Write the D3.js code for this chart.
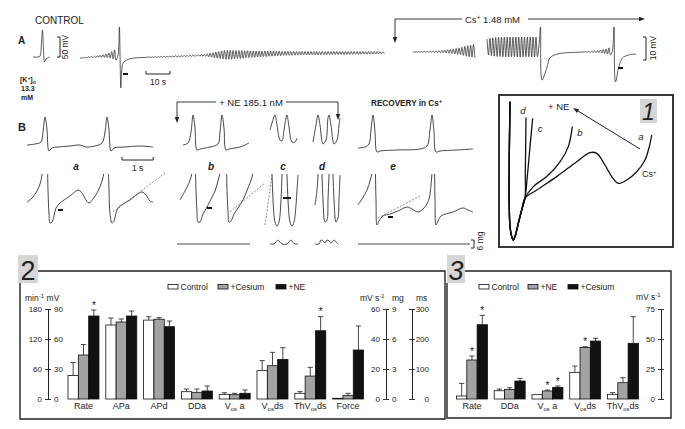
<!DOCTYPE html>
<html>
<head>
<meta charset="utf-8">
<style>
  body { margin: 0; background: #fff; }
  svg { display: block; font-family: "Liberation Sans", Arial, sans-serif; }
  .trace { fill: none; stroke: #333; stroke-width: 0.9; }
  .atrace { fill: none; stroke: #333; stroke-width: 0.8; }
  .p1 { fill: none; stroke: #111; stroke-width: 1.3; }
  .dash { fill: none; stroke: #555; stroke-width: 0.7; stroke-dasharray: 2,1.5; }
  .mark { stroke: #111; stroke-width: 2; }
  .bar-line { stroke: #333; stroke-width: 0.9; fill: none; }
  .frame { fill: none; stroke: #222; stroke-width: 1.4; }
  .tick text { fill: #222; }
  .tick line, .domain { stroke: #222; stroke-width: 0.9; }
</style>
<title>Cs+ and NE on pacemaker activity</title>
</head>
<body>
<script src="https://cdn.jsdelivr.net/npm/d3@7"></script>
<script>
// ---------------- data: bar panels ----------------
const cats2 = ["Rate", "APa", "APd", "DDa", "Vos a", "Vos ds", "ThVos ds", "Force"];
const units2 = ["min", "mV", "ms", "mV", "mVs", "mVs", "mVs", "mg"];
const series2 = ["Control", "+Cesium", "+NE"];
const ctrl2 = [47, 74, 263, 7.3, 3.1, 18.9, 3.8, 0.07];
const ctrl2Err = [26, 7, 11, 2.7, 1.1, 6.7, 1.1, 0];
const cs2 = [88, 77, 266, 6.7, 2.9, 22.2, 15.3, 0.37];
const cs2Err = [21, 3, 5, 3.3, 0.9, 8.9, 5.8, 0.2];
const ne2 = [166, 83, 241, 8, 3.8, 26.4, 45.5, 4.9];
const ne2Err = [12, 5, 19, 5, 2.2, 7.8, 9.4, 2.4];
const stars2 = [["Rate", "+NE"], ["ThVos ds", "+NE"]];
const ticksMin = [0, 60, 120, 180];
const ticksMV = [0, 30, 60, 90];
const ticksMVs = [0, 20, 40, 60];
const ticksMg = [0, 3, 6, 9];
const ticksMs = [0, 100, 200, 300];

const cats3 = ["Rate", "DDa", "Vos a", "Vos ds", "ThVos ds"];
const series3 = ["Control", "+NE", "+Cesium"];
const ctrl3 = [2.5, 6.9, 3.6, 22.2, 3.9];
const ctrl3Err = [10.5, 1.4, 0, 5.3, 1.4];
const ne3 = [32.5, 8, 6.7, 43, 13.6];
const ne3Err = [3.3, 1.4, 0.8, 0.6, 4.2];
const cs3 = [61.9, 15, 9.7, 48.3, 46.4];
const cs3Err = [7.8, 2.2, 1.1, 2.3, 22.2];
const stars3 = [["Rate", "+NE"], ["Rate", "+Cesium"], ["Vos a", "+NE"], ["Vos a", "+Cesium"], ["Vos ds", "+NE"]];
const ticks3 = [0, 25, 50, 75];

// ---------------- data: traces ----------------
// control spike, [ms, mV]
const ctlSpike = [[0,-60],[50,-60],[70,-57.5],[85,-22.5],[95,7.5],[105,-42.5],[115,-72.5],[130,-65],[170,-60]];
// panel A, time in s, voltage in mV ; oscillations given as peak-to-peak per cycle
const aOsc1 = { t0: 0, dt: 1.2, b0: 0, b1: 1.3, amps: [0.2,0.2,0.3,0.4,0.45,0.55,0.7,0.9,1.1,1.5,2.2,3.2,4.5] };
const aSpike = [[15.9,1.5],[16.4,13.5],[17.0,-13],[17.4,-5.2],[18.0,-2.2],[19.4,-0.9],[22,-0.1],[27.8,0.3]];
const aOsc2 = { t0: 29, dt: 1.2, b0: 0.3, b1: 1.1, amps: [0.2,0.25,0.3,0.3,0.35,0.35,0.4,0.4,0.4,0.45,0.45,0.45,0.5,0.5,0.5,0.5,0.55,0.6] };
const aOsc3 = { t0: 50.6, dt: 1.2, b0: 1.1, b1: 2.0, amps: [0.7,0.9,1.3,1.7,2.2,2.6,3,3.5,3.9,3.9,3.9,3.7,3.5,3.5,3.3,3,3,2.8,2.8,2.6,2.6,2.4,2.4,2.2,2.2,2.2,2,2] };
const aOsc4 = { t0: 84.2, dt: 1.2, b0: 2.0, b1: 2.3, amps: [1.7,1.7,1.7,1.65,1.65,1.55,1.55,1.5,1.5,1.5,1.5,1.45,1.45,1.4,1.4,1.35,1.35,1.3,1.3,1.3,1.3,1.25,1.25,1.2,1.2,1.2,1.2,1.2,1.2,1.15,1.15,1.1,1.1,1.0,1.0,0.9] };
const csOsc1 = { t0: 138.75, dt: 1.2, b0: 2.6, b1: 3.0, amps: [0.2,0.2,0.3,0.35,0.45,0.45,0.5,0.65,0.8,0.9,1.1,1.3,1.5,1.75,2.2,2.6,3,3.5,4.3,4.8,5.2,5.7] };
const csOsc2 = { t0: 169.6, dt: 1.2, b0: 4.8, b1: 4.8, amps: [7,7.5,8,8.3,8.3,8.5,8.5,8.7,8.5,8.5,8.7,8.7,8.5,8.5,8.5,8.7,8.7,8.5] };
const csSpike1 = [[191.3,6],[191.9,13.5],[192.5,-9.6],[194.6,-3.9],[195.8,0],[198.75,1.7],[209.6,2.6]];
const csOsc3 = { t0: 210.8, dt: 1.2, b0: 2.6, b1: 2.9, amps: [0.2,0.35,0.45,0.65,0.9,1.3,1.75,2.2,3] };
const csSpike2 = [[221.8,3],[222.5,13.5],[223.1,-10.4],[224.6,-3.5],[226,0],[228.5,1.3],[231.7,1.7]];

// panel B, [ms, mV] ; force [ms, mg]
const aTop = [[0,-60],[256,-57],[448,-51],[512,-21],[576,24],[640,-15],[704,-78],[800,-69],[992,-66],[1376,-63],[1696,-60],[1888,-66],[2176,-63],[2400,-54],[2496,-21],[2560,24],[2624,-15],[2688,-78],[2784,-69],[3136,-66],[3616,-63],[4032,-66]];
const aBot = [[0,-61.9],[160,-59.4],[320,-55],[416,-50.6],[480,-45],[512,-35.6],[576,-29],[640,-35.6],[672,-54.4],[704,-69.4],[736,-75],[800,-74.4],[864,-70.6],[928,-65.6],[1056,-62.5],[1376,-58.1],[1632,-54.4],[1760,-56.3],[1888,-60.6],[1984,-62.5],[2112,-60],[2272,-55],[2400,-48.8],[2464,-43.1],[2496,-35.6],[2560,-29],[2592,-35.6],[2624,-54.4],[2656,-69.4],[2720,-75],[2784,-73.8],[2848,-68.8],[2944,-65],[3296,-60.6],[3680,-55.6],[3808,-57.5],[3936,-61.3],[4032,-61.9]];
const aDash = [[2752,-68.1],[4416,-43.75]];
const aMark = [[992,-66.9],[1152,-66.9]];

const bTop = [[0,-60],[160,-54],[256,-21],[320,30],[384,-9],[448,-75],[544,-72],[864,-66],[1120,-57],[1184,-21],[1248,30],[1312,-9],[1376,-75],[1472,-72],[1824,-66],[2112,-54]];
const bBot = [[0,-60.6],[160,-55],[288,-50],[384,-43.75],[416,-35.6],[448,-29.4],[480,-35.6],[512,-54.4],[544,-68.1],[576,-74.4],[640,-74.4],[736,-69.4],[864,-65],[960,-61.3],[1120,-55],[1216,-48.8],[1280,-43.75],[1344,-35.6],[1408,-29.4],[1472,-35.6],[1504,-54.4],[1536,-68.1],[1568,-74.4],[1632,-73.8],[1728,-69.4],[1856,-65.6],[2016,-60.6],[2176,-53.1],[2304,-46.3],[2336,-41.9]];
const bDash = [[1600,-68.1],[2720,-50]];
const bMark = [[864,-65.6],[1024,-65.6]];
const bForce = [[-96,0],[2240,0]];

const cTop = [[0,-15],[64,6],[160,30],[224,0],[320,-45],[384,-48],[448,-15],[512,21],[544,30],[608,-6],[704,-51],[800,-51],[864,-39]];
const cBot = [[0,-29.4],[64,-45],[96,-60.6],[160,-74.4],[224,-76.9],[288,-74.4],[352,-60.6],[384,-45],[416,-29.4],[512,-29.4],[544,-45],[576,-60.6],[640,-74.4],[704,-76.9],[768,-74.4],[832,-63.75],[864,-54.4],[896,-45]];
const cDash = [[-160,-76.25],[64,-45]];
const cMark = [[416,-59.4],[672,-59.4]];
const cForce = [[0,0],[128,0],[192,1.5],[256,3],[320,1.2],[384,0],[544,0],[608,1.5],[672,3],[736,1.2],[800,0],[896,0]];

const dTop = [[0,-51],[96,0],[160,30],[224,0],[320,-57],[416,-45],[480,21],[512,30],[576,0],[672,-57],[768,-45],[832,0],[864,21]];
const dBot = [[64,-63.75],[128,-54.4],[160,-45],[192,-29.4],[256,-29.4],[288,-45],[320,-60.6],[384,-74.4],[448,-73.1],[480,-60.6],[512,-45],[544,-29.4],[608,-29.4],[640,-45],[672,-60.6],[736,-74.4],[800,-71.9],[832,-60.6],[864,-45]];
const dForce = [[64,0],[192,0],[256,3],[320,2.3],[384,0.75],[448,3],[512,2.3],[576,0.75],[672,3],[736,1.5],[800,0]];

const eTop = [[0,-69],[224,-66],[352,-57],[416,-15],[480,30],[544,-21],[608,-81],[704,-78],[1248,-75],[1984,-72],[2208,-63],[2304,-15],[2368,30],[2432,-21],[2496,-81],[2624,-78],[3168,-75],[3680,-72]];
const eBot = [[0,-63.75],[128,-60],[288,-54.4],[384,-48.75],[448,-43.75],[480,-35.6],[512,-29.4],[544,-35.6],[576,-60.6],[608,-76.25],[672,-73.75],[800,-70.6],[1024,-69.4],[1280,-67.5],[1568,-65],[1728,-66.25],[1920,-68.1],[2112,-65.6],[2272,-60],[2336,-51.25],[2368,-43.75],[2400,-32.5],[2432,-35.6],[2464,-60.6],[2496,-76.25],[2560,-73.75],[2656,-70.6],[3040,-68.1],[3360,-65.6],[3520,-66.9],[3680,-68.1]];
const eDash = [[640,-71.9],[1984,-58.1]];
const eMark = [[960,-71.25],[1120,-71.25]];
const eForce = [[0,0],[3584,0]];

// panel 1, superimposed diastolic depolarisations [ms, mV]
const p1Common = [[-10,-40.7],[-13.5,-54.4],[-13.5,-66.9],[-10,-71.9],[-1.5,-74.4],[6.5,-75.25],[15,-74.4],[31.5,-71.1],[48.5,-67.75],[65,-64.8]];
const p1d = [[66.5,-58.6],[68.5,-51.1],[70,-44.6]];
const p1c = [[76.5,-59.4],[90,-51.9],[103.5,-44.8]];
const p1b = [[106.5,-61.9],[173.5,-59.4],[240,-55.7],[281.5,-51.9],[301.5,-46.9]];
const p1a = [[123.5,-62.75],[223.5,-59.4],[323.5,-55.7],[390,-53.4],[423.5,-53.6],[465,-56.5],[498.5,-59.4],[531.5,-61.1],[573.5,-60.25],[623.5,-58.2],[665,-55.25],[686.5,-51.9],[698.5,-49]];

// ---------------- setup ----------------
const W = 685, H = 429;
const svg = d3.select("body").append("svg").attr("width", W).attr("height", H);
svg.append("rect").attr("width", W).attr("height", H).attr("fill", "#fff");
svg.append("defs").append("clipPath").attr("id", "clipBot")
  .append("rect").attr("x", 0).attr("y", 174).attr("width", W).attr("height", 60);

function oscPoints(o) {
  const n = o.amps.length, pts = [];
  o.amps.forEach((a, i) => {
    const b = o.b0 + (o.b1 - o.b0) * (i / Math.max(n - 1, 1));
    pts.push([o.t0 + i * o.dt, b + a / 2]);
    pts.push([o.t0 + (i + 0.5) * o.dt, b - a / 2]);
  });
  return pts;
}
function buildTrace(pieces) {
  let pts = [];
  pieces.forEach(p => { pts = pts.concat(Array.isArray(p) ? p : oscPoints(p)); });
  return pts;
}
const lineOf = (xs, ys, straight) => d3.line().x(d => xs(d[0])).y(d => ys(d[1]))
  .curve(straight ? d3.curveLinear : d3.curveCatmullRom.alpha(0.5));

function txt(x, y, s, o = {}) {
  return svg.append("text").attr("x", x).attr("y", y).text(s)
    .attr("font-size", o.size || 9).attr("fill", o.fill || "#222")
    .attr("font-weight", o.bold ? "bold" : null)
    .attr("font-style", o.italic ? "italic" : null)
    .attr("text-anchor", o.anchor || "start");
}
function seg(x1, y1, x2, y2, w = 0.9, col = "#333") {
  svg.append("line").attr("x1", x1).attr("y1", y1).attr("x2", x2).attr("y2", y2)
    .attr("stroke", col).attr("stroke-width", w);
}
function arrowHead(x, y, dir) { // dir: "down" | "right" | angle in rad
  let a = dir === "down" ? Math.PI / 2 : dir === "right" ? 0 : dir;
  const L = 6, Wd = 2.2;
  const p = [[x, y],
    [x - L * Math.cos(a) + Wd * Math.sin(a), y - L * Math.sin(a) - Wd * Math.cos(a)],
    [x - L * Math.cos(a) - Wd * Math.sin(a), y - L * Math.sin(a) + Wd * Math.cos(a)]];
  svg.append("path").attr("d", "M" + p.join("L") + "Z").attr("fill", "#222");
}
function bracket(x, y0, len, w = 3) { // "]" shape
  svg.append("path").attr("d", `M${x - w},${y0}H${x}V${y0 - len}H${x - w}`)
    .attr("fill", "none").attr("stroke", "#222").attr("stroke-width", 1);
}

// ---------------- panel A ----------------
const xC = d3.scaleLinear().domain([0, 170]).range([33, 50]);
const yC = d3.scaleLinear().domain([-60, -10]).range([57, 37]);
const xA = d3.scaleLinear().domain([0, 10]).range([80, 104]);
const yA = d3.scaleLinear().domain([0, 10]).range([58, 35]);

txt(35, 23.5, "CONTROL", { size: 10 });
txt(18, 43.5, "A", { size: 10, bold: true });
svg.append("path").attr("class", "atrace").attr("d", lineOf(xC, yC)(ctlSpike));
bracket(60, yC(-60), yC(-60) - yC(-10));
txt(68, 47, "50 mV", { size: 8.5, anchor: "middle" }).attr("transform", "rotate(-90,68,47)");

const kt = txt(20, 82, "[K", { size: 7, bold: true });
kt.append("tspan").attr("dy", -2.5).attr("font-size", 5).text("+");
kt.append("tspan").attr("dy", 2.5).text("]");
kt.append("tspan").attr("dy", 1.5).attr("font-size", 5).text("o");
txt(21, 91, "13.3", { size: 7, bold: true });
txt(21, 100, "mM", { size: 7, bold: true });

const lineA = lineOf(xA, yA);
[buildTrace([aOsc1, aSpike, aOsc2, aOsc3, aOsc4]),
 buildTrace([csOsc1]),
 buildTrace([csOsc2, csSpike1, csOsc3, csSpike2])]
  .forEach(p => svg.append("path").attr("class", "atrace").attr("d", lineA(p)));

// marks under the spikes
seg(123, 74, 128, 74, 2, "#111");
seg(618, 68, 623, 68, 2, "#111");
// 10 s bar
svg.append("path").attr("d", `M${xA(27.5)},71V74H${xA(37.5)}V71`).attr("fill", "none").attr("stroke", "#222");
txt((xA(27.5) + xA(37.5)) / 2, 85, "10 s", { size: 8.5, anchor: "middle" });
// Cs+ bracket
seg(395, 19, 462, 19, 0.9, "#222");
seg(528, 19, 640, 19, 0.9, "#222");
arrowHead(645, 19, "right");
seg(395, 19, 395, 38, 0.9, "#222");
arrowHead(395, 43, "down");
const cst = txt(465, 22.5, "Cs", { size: 9.5 });
cst.append("tspan").attr("dy", -3).attr("font-size", 6.5).text("+");
cst.append("tspan").attr("dy", 3).text(" 1.48 mM");
bracket(646, 60, yA(0) - yA(10));
txt(656, 48, "10 mV", { size: 8.5, anchor: "middle" }).attr("transform", "rotate(-90,656,48)");

// ---------------- panel B ----------------
txt(18, 131, "B", { size: 11, bold: true });
const msPx = 31.25 / 1000;
const tScale = x0 => d3.scaleLinear().domain([0, 1000]).range([x0, x0 + 1000 * msPx]);
const yTop = d3.scaleLinear().domain([-60, 30]).range([145, 115]);
const yBot = d3.scaleLinear().domain([-75, -45]).range([223, 175]);
const yForce = d3.scaleLinear().domain([0, 6]).range([244, 236]);

const topTraces = [[aTop, 27], [bTop, 183], [cTop, 270], [dTop, 313], [eTop, 358]];
topTraces.forEach(([d, x0]) => svg.append("path").attr("class", "trace").attr("d", lineOf(tScale(x0), yTop)(d)));
const botTraces = [[aBot, 27], [bBot, 180], [cBot, 270], [dBot, 313], [eBot, 358]];
botTraces.forEach(([d, x0]) => svg.append("path").attr("class", "trace")
  .attr("clip-path", "url(#clipBot)").attr("d", lineOf(tScale(x0), yBot)(d)));
[[aDash, 27], [bDash, 180], [cDash, 270], [eDash, 358]].forEach(([d, x0]) =>
  svg.append("path").attr("class", "dash").attr("d", lineOf(tScale(x0), yBot, true)(d)));
[[aMark, 27], [bMark, 180], [cMark, 270], [eMark, 358]].forEach(([d, x0]) =>
  svg.append("path").attr("class", "mark").attr("stroke-width", d === cMark ? 1.2 : 2)
    .attr("d", lineOf(tScale(x0), yBot, true)(d)));
[[bForce, 180], [cForce, 270], [dForce, 313], [eForce, 358]].forEach(([d, x0]) =>
  svg.append("path").attr("class", "trace").attr("stroke-width", 0.8).attr("d", lineOf(tScale(x0), yForce)(d)));

// 1 s bar
const t1 = tScale(122);
svg.append("path").attr("d", `M${t1(0)},157V160H${t1(1000)}V157`).attr("fill", "none").attr("stroke", "#222");
txt((t1(0) + t1(1000)) / 2, 171, "1 s", { size: 8.5, anchor: "middle" });
// labels
[["a", 76], ["b", 211], ["c", 283], ["d", 322], ["e", 393]].forEach(([s, x]) =>
  txt(x, 169.5, s, { size: 10, bold: true, italic: true, anchor: "middle" }));
// NE bracket
seg(177, 102, 216, 102, 0.9, "#222");
seg(286, 102, 338, 102, 0.9, "#222");
seg(177, 102, 177, 117, 0.9, "#222"); arrowHead(177, 123, "down");
seg(338, 102, 338, 114, 0.9, "#222"); arrowHead(338, 120, "down");
txt(251, 105.5, "+ NE 185.1 nM", { size: 9.5, anchor: "middle" });
const rt = txt(371, 105.5, "RECOVERY in Cs", { size: 8.2, bold: true })
  .attr("font-family", "'Liberation Sans Narrow', 'Liberation Sans', Arial, sans-serif");
rt.append("tspan").attr("dy", -3).attr("font-size", 6).text("+");
// 6 mg bracket
bracket(474, 248, yForce(0) - yForce(6));
txt(483, 241, "6 mg", { size: 8.5, anchor: "middle" }).attr("transform", "rotate(-90,483,241)");

// ---------------- panel 1 ----------------
svg.append("rect").attr("x", 499).attr("y", 95).attr("width", 174).attr("height", 152)
  .attr("fill", "none").attr("stroke", "#222").attr("stroke-width", 1.8);
svg.append("rect").attr("x", 640).attr("y", 99).attr("width", 17).attr("height", 24).attr("fill", "#d6d6d6");
txt(648.5, 120, "1", { size: 23, italic: true, anchor: "middle" });
const x1 = d3.scaleLinear().domain([0, 100]).range([512, 532]);
const y1 = d3.scaleLinear().domain([-75, -45]).range([239, 119]);
[p1d, p1c, p1b, p1a].forEach(br =>
  svg.append("path").attr("class", "p1").attr("d", lineOf(x1, y1)(p1Common.concat(br))));
txt(523, 114, "d", { size: 9.5, italic: true, anchor: "middle" });
txt(540, 132, "c", { size: 9.5, italic: true, anchor: "middle" });
txt(580, 136, "b", { size: 9.5, italic: true, anchor: "middle" });
txt(641, 139.5, "a", { size: 9.5, italic: true, anchor: "middle" });
const cs1 = txt(642, 177, "Cs", { size: 9 });
cs1.append("tspan").attr("dy", -3).attr("font-size", 6).text("+");
txt(548, 110, "+ NE", { size: 9.5 });
seg(640, 149, 578, 111, 1, "#222");
arrowHead(573, 108, Math.atan2(108 - 149, 573 - 640));

// ---------------- bar panels ----------------
const fills = ["#fff", "#a3a3a3", "#111"];
function subLabel(sel, cat) {
  const m = cat.match(/^(.*)V(os) ?(.*)$/);
  if (!m) { sel.text(cat); return; }
  sel.append("tspan").text(m[1] + "V");
  sel.append("tspan").attr("font-size", 6).attr("dy", 2).text("os");
  sel.append("tspan").attr("dy", -2).text((cat.includes("os a") ? " " : "") + m[3]);
}
function drawBars(cats, series, means, errs, x, yOf, stars) {
  const xs = d3.scaleBand().domain(series).range([0, x.bandwidth()]);
  const g = svg.append("g");
  cats.forEach((c, ci) => {
    const y = yOf(ci);
    series.forEach((s, si) => {
      const m = means[si][ci], e = errs[si][ci];
      const bx = x(c) + xs(s), cx = bx + xs.bandwidth() / 2;
      if (e > 0) {
        g.append("line").attr("class", "bar-line").attr("x1", cx).attr("x2", cx).attr("y1", y(m)).attr("y2", y(m + e));
        g.append("line").attr("class", "bar-line").attr("x1", cx - 2.6).attr("x2", cx + 2.6).attr("y1", y(m + e)).attr("y2", y(m + e));
      }
      g.append("rect").attr("x", bx).attr("y", y(m)).attr("width", xs.bandwidth()).attr("height", y(0) - y(m))
        .attr("fill", fills[si]).attr("stroke", "#111").attr("stroke-width", 0.8);
      if (stars.some(st => st[0] === c && st[1] === s))
        g.append("text").attr("x", cx).attr("y", y(m + e) - 1.2).attr("text-anchor", "middle")
          .attr("font-size", 10).attr("fill", "#111").text("*");
    });
    const lt = g.append("text").attr("x", x(c) + x.bandwidth() / 2).attr("y", 409)
      .attr("text-anchor", "middle").attr("font-size", 9).attr("fill", "#222");
    subLabel(lt, c);
  });
}
function legend(items, y) {
  items.forEach(([label, fill, x]) => {
    svg.append("rect").attr("x", x).attr("y", y - 5.5).attr("width", 10).attr("height", 4.5)
      .attr("fill", fill).attr("stroke", "#111").attr("stroke-width", 0.8);
    txt(x + 12.5, y - 0.5, label, { size: 8.5 });
  });
}
function axis(gen, x, ticks, size, fmt) {
  const g = svg.append("g").attr("transform", `translate(${x},0)`)
    .call(gen.tickValues(ticks).tickSize(3).tickSizeOuter(0).tickPadding(fmt === "" ? 0 : 3)
      .tickFormat(fmt === "" ? () => "" : d3.format("d")))
    .attr("font-family", null).attr("font-size", size);
  return g;
}
function numBox(x, y, w, h, s, italic) {
  svg.append("rect").attr("x", x).attr("y", y).attr("width", w).attr("height", h).attr("fill", "#d6d6d6");
  txt(x + w / 2, y + h - 3.5, s, { size: 27, italic, anchor: "middle" });
}

// panel 2
svg.append("path").attr("class", "frame").attr("d", "M38,271H445V419H20V283");
numBox(18, 255, 20, 28, "2", false);
const y2 = {
  min: d3.scaleLinear().domain([0, 180]).range([399, 309]),
  mV: d3.scaleLinear().domain([0, 90]).range([399, 309]),
  ms: d3.scaleLinear().domain([0, 300]).range([399, 309]),
  mVs: d3.scaleLinear().domain([0, 60]).range([399, 309]),
  mg: d3.scaleLinear().domain([0, 9]).range([399, 309])
};
const x2 = d3.scaleBand().domain(cats2).range([61.2, 370.4]).padding(0.18);
drawBars(cats2, series2, [ctrl2, cs2, ne2], [ctrl2Err, cs2Err, ne2Err], x2, ci => y2[units2[ci]], stars2);
axis(d3.axisLeft(y2.min), 48, ticksMin, 8);
axis(d3.axisRight(y2.mV), 48, ticksMV, 8);
axis(d3.axisLeft(y2.mVs), 386, ticksMVs, 8);
axis(d3.axisRight(y2.mg), 386, ticksMg, 8);
axis(d3.axisLeft(y2.ms), 412, ticksMs, 8, "");
axis(d3.axisRight(y2.ms), 412, ticksMs, 8).call(g => g.selectAll("text").attr("text-anchor", "end").attr("x", 17));
const h1 = txt(25, 301, "min", { size: 8.5 });
h1.append("tspan").attr("dy", -3).attr("font-size", 6).text("-1");
h1.append("tspan").attr("dy", 3).attr("dx", 2.5).text("mV");
const h2 = txt(360, 301, "mV s", { size: 8.5 });
h2.append("tspan").attr("dy", -3).attr("font-size", 6).text("-1");
txt(392, 301, "mg", { size: 8.5 });
txt(416, 301, "ms", { size: 8.5 });
legend([["Control", "#fff", 168], ["+Cesium", "#a3a3a3", 218], ["+NE", "#111", 276]], 290);

// panel 3
svg.append("path").attr("class", "frame").attr("d", "M465,271H671V418H447V283");
numBox(447, 255, 18, 28, "3", true);
const y3 = d3.scaleLinear().domain([0, 75]).range([399, 309]);
const x3 = d3.scaleBand().domain(cats3).range([449.7, 645.2]).padding(0.18);
drawBars(cats3, series3, [ctrl3, ne3, cs3], [ctrl3Err, ne3Err, cs3Err], x3, () => y3, stars3);
axis(d3.axisLeft(y3), 661, ticks3, 8);
axis(d3.axisRight(y3), 661, ticks3, 8, "");
const h3 = txt(636, 300, "mV s", { size: 8.5 });
h3.append("tspan").attr("dy", -3).attr("font-size", 6).text("-1");
legend([["Control", "#fff", 479], ["+NE", "#a3a3a3", 528], ["+Cesium", "#111", 568]], 290);
</script>
</body>
</html>
